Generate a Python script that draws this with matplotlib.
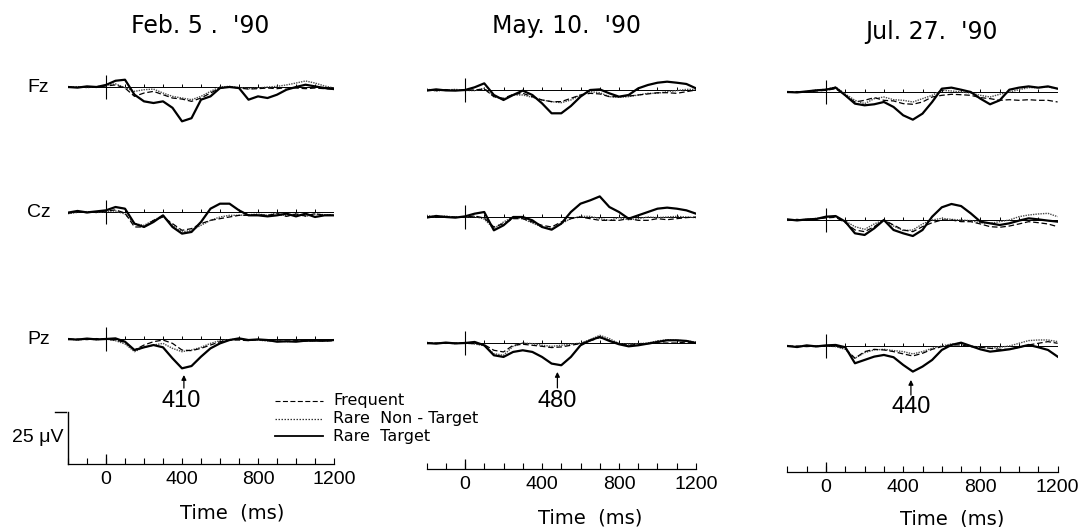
import matplotlib
matplotlib.use("Agg")
import matplotlib.pyplot as plt

# ---------------- data ----------------
times = list(range(-200, 1201, 50))           # ms
sessions = ["Feb. 5 .  '90", "May. 10.  '90", "Jul. 27.  '90"]
electrodes = ["Fz", "Cz", "Pz"]
conditions = ["Frequent", "Rare  Non - Target", "Rare  Target"]
peak_latencies = [410, 480, 440]
tick_values = [0, 400, 800, 1200]
scale_uv = 25

# amplitudes in microvolts (positive plotted downward)
feb_fz_frequent = [0.0, 0.2, -0.2, 0.1, -0.5, -1.0, 0.5, 4.5, 2.9, 2.1, 3.7, 5.3, 5.8, 6.9, 5.3, 2.9, 0.5, 0.0, 0.5, 1.0, 0.8, 0.5, 0.8, 0.3, 0.5, 0.8, 0.5, 0.8, 1.0]
feb_fz_nontarget = [0.2, -0.2, 0.3, -0.1, -0.8, -1.5, 0.3, 2.1, 1.3, 1.0, 2.9, 4.5, 5.3, 6.1, 4.5, 2.1, 0.0, -0.3, 0.3, 0.8, 0.5, 0.0, -0.3, -1.0, -1.9, -2.9, -1.9, -0.5, 0.5]
feb_fz_target = [0.0, 0.3, -0.3, 0.0, -1.0, -3.0, -3.5, 3.7, 6.9, 7.7, 6.9, 10.0, 16.5, 15.0, 6.1, 4.5, 0.5, 0.0, 0.5, 6.1, 4.5, 5.3, 3.7, 1.3, 0.0, -1.1, -0.3, 0.5, 1.0]

feb_cz_frequent = [0.5, 0.0, 0.3, 0.0, -0.5, -1.0, 0.5, 7.2, 7.2, 4.0, 2.4, 5.6, 8.8, 8.0, 5.6, 4.0, 3.2, 2.4, 1.6, 1.6, 1.3, 1.6, 0.8, 2.1, 1.0, 1.9, 0.8, 1.6, 1.3]
feb_cz_nontarget = [0.8, 0.2, -0.2, 0.3, -0.3, -0.5, 1.0, 5.6, 6.4, 4.0, 1.6, 6.4, 9.6, 8.8, 6.4, 4.0, 2.4, 1.6, 1.6, 1.3, 1.0, 1.6, 0.5, 1.9, 0.8, 2.1, 1.0, 1.3, 1.6]
feb_cz_target = [0.3, -0.5, 0.2, -0.3, -0.8, -2.4, -1.6, 5.6, 7.2, 4.8, 1.6, 7.2, 10.4, 9.6, 4.8, -1.6, -4.0, -4.0, -0.8, 1.6, 1.6, 2.1, 1.6, 0.8, 2.1, 0.8, 2.4, 1.6, 1.6]

feb_pz_frequent = [0.3, 0.0, 0.3, -0.2, 0.2, 0.5, 1.6, 5.3, 2.9, 1.3, 0.5, 2.1, 5.3, 5.6, 4.5, 2.9, 1.3, 0.5, 0.5, 0.8, 0.3, 0.8, 1.0, 1.1, 0.8, 1.0, 0.8, 1.0, 0.8]
feb_pz_nontarget = [0.0, 0.5, 0.0, 0.3, 0.0, 0.8, 2.4, 6.1, 4.0, 2.9, 2.1, 4.5, 6.1, 5.3, 4.0, 2.1, 0.8, 0.3, 0.0, 0.5, 0.5, 1.0, 0.8, 1.3, 1.0, 1.1, 0.8, 1.0, 0.5]
feb_pz_target = [0.0, 0.3, -0.2, 0.2, 0.0, -0.3, 1.3, 5.3, 4.0, 2.9, 4.0, 9.3, 14.1, 13.0, 8.5, 4.5, 2.1, 0.5, -0.3, 0.5, 0.2, 0.5, 1.3, 1.1, 1.3, 0.8, 0.8, 0.8, 0.5]

may_fz_frequent = [0.0, 0.3, -0.2, 0.2, 0.0, 0.0, -0.5, 3.2, 4.0, 2.1, 1.6, 3.2, 4.8, 5.6, 5.6, 4.0, 2.4, 1.6, 1.9, 3.2, 3.2, 2.9, 2.4, 1.9, 1.3, 1.3, 1.6, 0.8, 0.0]
may_fz_nontarget = [-0.5, 0.5, 0.0, -0.3, 0.2, 0.3, -0.8, 3.2, 4.5, 2.4, 2.4, 3.5, 4.8, 5.6, 6.1, 4.8, 2.4, 0.8, 1.3, 3.2, 3.5, 3.2, 2.4, 1.6, 1.6, 0.8, 0.3, -0.3, -0.3]
may_fz_target = [0.3, -0.3, 0.2, 0.3, 0.0, -1.3, -3.2, 2.4, 4.8, 2.4, 0.3, 2.4, 6.4, 11.2, 11.2, 7.7, 3.2, 0.0, -0.3, 1.6, 3.2, 2.4, -0.8, -2.4, -3.5, -4.0, -3.5, -2.9, -0.8]

may_cz_frequent = [-0.3, 0.2, -0.2, 0.0, 0.0, -0.5, 0.5, 4.8, 3.2, 0.8, 0.8, 2.4, 4.0, 4.8, 2.4, 0.8, 0.0, 0.8, 1.6, 1.6, 1.6, 0.8, 1.6, 1.6, 0.8, 1.3, 0.8, 0.3, 0.0]
may_cz_nontarget = [-0.8, 0.0, -0.5, 0.2, 0.0, -0.3, 1.0, 5.6, 2.4, 0.0, 0.8, 2.9, 4.8, 5.6, 3.2, 0.8, -0.3, -0.3, 0.8, 1.6, 0.3, 1.3, 0.8, 0.0, 0.3, 0.0, -0.3, 0.0, 0.3]
may_cz_target = [0.3, -0.5, 0.0, 0.3, -0.3, -1.6, -2.4, 6.4, 4.0, 0.0, 0.0, 1.6, 4.8, 6.1, 3.2, -2.4, -6.4, -8.0, -9.9, -4.8, -2.4, 0.8, -0.8, -2.4, -4.0, -4.5, -4.0, -3.2, -1.6]

may_pz_frequent = [0.3, 0.0, 0.2, 0.0, 0.2, 0.3, 0.8, 3.5, 4.3, 1.1, 0.6, 1.1, 1.6, 2.2, 1.9, 1.1, 0.3, -1.0, -2.6, -1.3, 0.3, 1.1, 0.6, 0.3, 0.0, 0.0, 0.0, -0.5, 0.0]
may_pz_nontarget = [-0.3, 0.2, 0.0, 0.3, -0.2, 0.5, 1.3, 5.1, 5.9, 1.6, 0.0, 0.3, 1.1, 1.6, 1.1, 0.6, 0.0, -1.6, -3.7, -2.1, 0.3, 0.6, 0.3, 0.0, -1.0, -1.6, -1.3, -1.0, -0.5]
may_pz_target = [0.0, 0.3, -0.2, 0.2, 0.0, -0.5, 1.1, 5.9, 6.7, 4.3, 3.5, 4.3, 6.7, 9.9, 10.7, 6.7, 1.1, -1.3, -2.9, -1.0, 0.6, 1.6, 1.1, 0.3, -0.5, -1.3, -1.3, -1.0, 0.0]

jul_fz_frequent = [0.0, -0.2, 0.2, -0.5, -0.8, -1.6, 1.6, 4.8, 4.0, 2.7, 4.0, 4.3, 5.6, 5.9, 4.8, 2.4, 1.6, 1.1, 1.3, 1.6, 2.7, 3.2, 4.0, 3.7, 4.0, 3.7, 4.0, 4.0, 4.8]
jul_fz_nontarget = [0.2, 0.0, -0.2, -1.0, -1.3, -2.4, 1.0, 4.0, 5.6, 3.2, 2.4, 3.7, 4.0, 4.8, 3.2, 1.6, -0.8, -0.5, 0.0, 0.5, 1.6, 2.4, 1.1, 0.0, -1.1, -2.1, -2.1, -2.4, -1.6]
jul_fz_target = [0.0, 0.2, -0.3, -0.8, -1.1, -2.1, 1.6, 5.6, 6.4, 5.9, 4.8, 7.2, 11.2, 13.3, 10.4, 4.8, -1.6, -2.1, -1.1, 0.0, 3.2, 5.9, 4.0, -1.1, -2.1, -2.7, -2.1, -2.7, -1.6]

jul_cz_frequent = [0.0, -0.3, 0.2, -0.5, -1.0, -1.3, 1.3, 4.8, 5.6, 3.2, 0.0, 2.4, 4.8, 5.6, 3.2, 1.3, 0.0, 0.0, 0.8, 0.8, 1.9, 3.2, 3.5, 2.9, 1.9, 0.8, 1.3, 1.9, 3.2]
jul_cz_nontarget = [0.2, 0.0, -0.3, -0.8, -1.3, -1.6, 0.5, 3.2, 4.5, 1.9, 0.0, 2.9, 5.1, 4.8, 1.9, 0.0, -0.8, -0.3, 0.0, 0.3, 1.3, 1.6, 0.8, 0.0, -1.6, -2.4, -2.9, -3.2, -1.6]
jul_cz_target = [-0.3, 0.2, -0.3, -0.5, -1.6, -1.9, 0.8, 6.4, 7.2, 4.0, 0.0, 4.8, 6.4, 7.7, 4.8, -1.6, -6.1, -7.7, -6.7, -3.2, 0.8, 1.6, 2.4, 1.6, 0.3, -0.8, -0.3, 0.3, 0.8]

jul_pz_frequent = [0.2, 0.0, 0.3, 0.0, -0.2, 0.0, 1.3, 5.9, 2.7, 1.6, 1.9, 2.7, 3.8, 4.8, 3.5, 1.6, 0.3, -0.5, -0.5, 0.3, 0.6, 1.1, 1.6, 1.6, 0.6, -0.5, -1.3, -2.1, -1.3]
jul_pz_nontarget = [0.0, 0.3, 0.0, 0.3, 0.0, 0.3, 1.6, 5.9, 3.2, 1.9, 1.6, 2.2, 2.7, 3.8, 2.7, 1.1, 0.0, -1.0, -1.3, 0.0, 0.6, 1.1, 0.6, 0.0, -1.3, -2.6, -2.9, -2.9, -2.1]
jul_pz_target = [0.0, 0.5, -0.3, 0.2, -0.3, -0.5, 0.6, 8.3, 6.7, 5.1, 4.3, 5.4, 9.1, 12.3, 9.9, 6.7, 1.9, -0.5, -1.6, 0.0, 1.6, 2.7, 2.2, 1.6, 0.6, -0.5, 0.6, 1.9, 5.1]

waves = [
    [[feb_fz_frequent, feb_fz_nontarget, feb_fz_target],
     [feb_cz_frequent, feb_cz_nontarget, feb_cz_target],
     [feb_pz_frequent, feb_pz_nontarget, feb_pz_target]],
    [[may_fz_frequent, may_fz_nontarget, may_fz_target],
     [may_cz_frequent, may_cz_nontarget, may_cz_target],
     [may_pz_frequent, may_pz_nontarget, may_pz_target]],
    [[jul_fz_frequent, jul_fz_nontarget, jul_fz_target],
     [jul_cz_frequent, jul_cz_nontarget, jul_cz_target],
     [jul_pz_frequent, jul_pz_nontarget, jul_pz_target]],
]

# ---------------- layout (pixels) ----------------
W, H = 1081, 527
zero_px = [106, 465, 826]
ms_px = [0.19, 0.1925, 0.193]
base_px = [[87, 212, 339], [90, 217, 343], [92, 220, 346]]
axis_px = [464, 469, 472]
px_per_uv = 52 / scale_uv
above, below = 45, 55

title_pos = [(200, 33), (567, 33), (931, 39)]
timelabel_pos = [(232, 513), (590, 518), (952, 519)]
arrow_geom = [(17.3, 23.6, 30.0), (13.9, 21.6, 28.1), (16.3, 23.6, 29.5)]
label_x = [397, 478, 440]

styles = [
    dict(color="black", lw=0.9, ls=(0, (4.5, 2.2))),
    dict(color="#4a4a4a", lw=1.0, ls=(0, (1.0, 0.8))),
    dict(color="black", lw=1.6, ls="-"),
]
legend_styles = [
    dict(color="black", lw=0.8, ls=(0, (4.5, 2.2))),
    dict(color="#333333", lw=0.9, ls=(0, (1.2, 1.2))),
    dict(color="black", lw=1.3, ls="-"),
]
draw_order = [1, 0, 2]

NUM = ["Liberation Sans", "DejaVu Sans"]
REG = ["DejaVu Sans"]

fig = plt.figure(figsize=(W / 100, H / 100), dpi=100)
fig.patch.set_facecolor("white")


def add_ax_px(left, top, right, bottom):
    return fig.add_axes([left / W, 1 - bottom / H, (right - left) / W, (bottom - top) / H])


for c in range(3):
    x0, s = zero_px[c], ms_px[c]
    left, right = x0 - 200 * s, x0 + 1200 * s
    # title
    fig.text(title_pos[c][0] / W, 1 - title_pos[c][1] / H, sessions[c],
             ha="center", va="baseline", fontsize=17, family=REG)
    for r in range(3):
        b = base_px[c][r]
        ax = add_ax_px(left, b - above, right, b + below)
        ax.set_xlim(-200, 1200)
        ax.set_ylim(below / px_per_uv, -above / px_per_uv)
        ax.axis("off")
        # baseline with small ticks and the stimulus-onset marker
        ax.plot([-200, 1200], [0, 0], color="black", lw=0.7)
        ax.vlines(range(100, 1201, 100), -3 / px_per_uv, 0, color="black", lw=0.7)
        ax.vlines(0, -12 / px_per_uv, 12 / px_per_uv, color="black", lw=0.8)
        for k in draw_order:
            st = styles[k]
            ax.plot(times, waves[c][r][k], color=st["color"], lw=st["lw"],
                    linestyle=st["ls"], solid_joinstyle="round")
        if c == 0:
            fig.text(27 / W, 1 - b / H, electrodes[r], ha="left", va="center",
                     fontsize=14, family=NUM)
        if r == 2:
            a_top, a_tail, lab = arrow_geom[c]
            ax.annotate("", xy=(peak_latencies[c], a_top), xytext=(peak_latencies[c], a_tail),
                        arrowprops=dict(arrowstyle="-|>", color="black", lw=0.9,
                                        mutation_scale=7, shrinkA=0, shrinkB=0),
                        annotation_clip=False)
            ax.text(label_x[c], lab, str(peak_latencies[c]), ha="center",
                    va="center", fontsize=17, family=NUM, clip_on=False)

    # time axis
    ya = axis_px[c]
    tax = add_ax_px(left, ya - 60, right, ya)
    tax.set_xlim(-200, 1200)
    tax.set_ylim(0, 60 / px_per_uv)
    for sp in ["left", "right", "top"]:
        tax.spines[sp].set_visible(False)
    tax.spines["bottom"].set_linewidth(0.9)
    tax.set_yticks([])
    tax.set_xticks(tick_values)
    tax.set_xticks(range(-200, 1201, 100), minor=True)
    tax.tick_params(axis="x", which="both", direction="in", length=4, width=0.8)
    tax.tick_params(axis="x", which="major", pad=5)
    for lbl in tax.get_xticklabels():
        lbl.set_family(NUM)
        lbl.set_fontsize(14)
    tax.vlines(0, 0, 10 / px_per_uv, color="black", lw=0.9)
    tax.patch.set_alpha(0)
    fig.text(timelabel_pos[c][0] / W, 1 - timelabel_pos[c][1] / H, "Time  (ms)",
             ha="center", va="center", fontsize=14, family=REG)
    if c == 0:
        tax.plot([-200, -200], [0, scale_uv], color="black", lw=1.0, clip_on=False)
        tax.plot([-268, -212], [scale_uv, scale_uv], color="black", lw=1.0, clip_on=False)
        fig.text(63 / W, 1 - 437 / H, "25 μV", ha="right", va="center",
                 fontsize=14, family=NUM)

# legend (drawn in figure pixels)
leg_rows = [401, 419, 436]
lax = add_ax_px(270, 390, 500, 445)
lax.set_xlim(270, 500)
lax.set_ylim(445, 390)
lax.axis("off")
for k in range(3):
    st = legend_styles[k]
    lax.plot([275, 323], [leg_rows[k], leg_rows[k]], color=st["color"], lw=st["lw"],
             linestyle=st["ls"])
    lax.text(333, leg_rows[k], conditions[k], ha="left", va="center", fontsize=11.5,
             family=REG)

fig.savefig("out.png", dpi=100, facecolor="white")
